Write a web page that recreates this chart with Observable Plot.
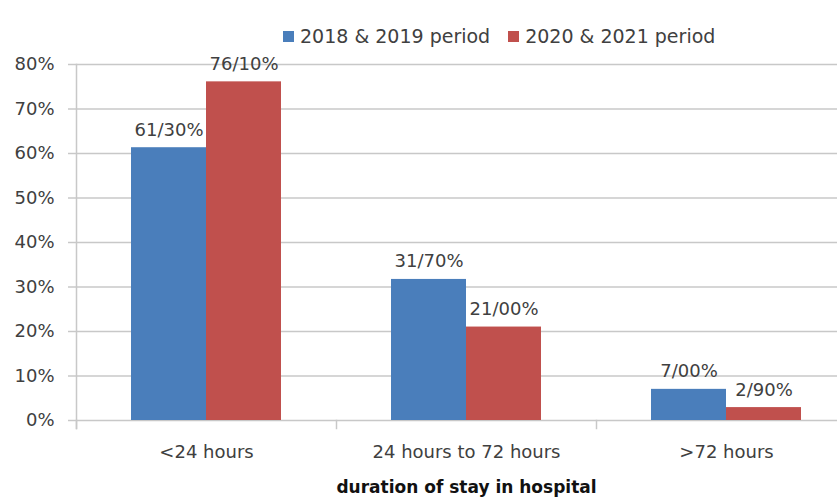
<!DOCTYPE html>
<html>
<head>
<meta charset="utf-8">
<script src="https://cdn.jsdelivr.net/npm/d3@7"></script>
<script src="https://cdn.jsdelivr.net/npm/@observablehq/plot@0.6"></script>
<style>
  html, body { margin: 0; padding: 0; background: #fff; overflow: hidden; }
  #wrap { position: relative; width: 837px; height: 498px; overflow: hidden; }
  #legend { position: absolute; left: 283px; top: 25px; display: flex; align-items: center;
            font: 19px "DejaVu Sans", sans-serif; color: #404040; white-space: nowrap; }
  #legend .item { display: flex; align-items: center; margin-right: 18px; }
  #legend .sw { width: 11px; height: 11px; margin-right: 6px; }
  #chart { position: absolute; left: 0; top: 0; }
</style>
</head>
<body>
<div id="wrap">
  <div id="chart"></div>
  <div id="legend"></div>
</div>
<script>
// Length of hospital stay, share of patients per period
const categories = ["<24 hours", "24 hours to 72 hours", ">72 hours"];
const seriesNames = ["2018 & 2019 period", "2020 & 2021 period"];
const seriesColors = ["#4a7ebb", "#c0504d"];
const values2018_2019 = [61.3, 31.7, 7.0];
const values2020_2021 = [76.1, 21.0, 2.9];
const yTicks = [0, 10, 20, 30, 40, 50, 60, 70, 80];
const xTitle = "duration of stay in hospital";

const seriesValues = [values2018_2019, values2020_2021];
const rows = categories.flatMap((category, i) =>
  seriesNames.map((series, s) => ({category, series, value: seriesValues[s][i]}))
);

// values are written with "/" as the decimal separator
const fmt = v => v.toFixed(2).replace(".", "/") + "%";

const gridColor = "#c8c8c8";
const textColor = "#404040";

const chart = Plot.plot({
  width: 856,
  height: 498,
  marginTop: 64,
  marginBottom: 78,
  marginLeft: 75,
  marginRight: 0,
  style: {fontSize: "18px", fontFamily: "'DejaVu Sans', sans-serif", color: textColor,
          background: "#fff", maxWidth: "none"},
  fx: {domain: categories, padding: 0, label: null},
  x: {domain: seriesNames, paddingInner: 0, paddingOuter: 0.733, axis: null},
  y: {domain: [0, 80], axis: null},
  color: {domain: seriesNames, range: seriesColors},
  marks: [
    Plot.gridY(yTicks, {stroke: gridColor, strokeOpacity: 1, strokeWidth: 1.5}),
    Plot.barY(rows, {fx: "category", x: "series", y: "value", fill: "series"}),
    Plot.text(rows, {fx: "category", x: "series", y: "value", text: d => fmt(d.value),
                     lineAnchor: "bottom", dy: -12, fill: textColor}),
    Plot.axisY(yTicks, {tickFormat: d => d + "%", tickSize: 8, tickPadding: 14,
                        stroke: gridColor, strokeWidth: 1.5, fill: textColor, label: null}),
    // vertical axis line, and small category separators under the baseline
    Plot.frame({anchor: "left", facet: "super", insetBottom: -8, stroke: gridColor, strokeWidth: 1.5}),
    Plot.frame({anchor: "left", insetTop: 356, insetBottom: -8, stroke: gridColor, strokeWidth: 1.5}),
    Plot.axisFx({anchor: "bottom", tickSize: 0, tickPadding: 25, label: null, fill: textColor}),
    // x-axis title, centred under the whole chart
    Plot.text([xTitle], {facet: "super", frameAnchor: "bottom", dy: 67, lineAnchor: "middle",
                         fontWeight: "bold", fontSize: 17, fill: "#111"})
  ]
});
document.getElementById("chart").appendChild(chart);

// legend
const legend = document.getElementById("legend");
seriesNames.forEach((name, i) => {
  const item = document.createElement("div");
  item.className = "item";
  const sw = document.createElement("div");
  sw.className = "sw";
  sw.style.background = seriesColors[i];
  const label = document.createElement("span");
  label.textContent = name;
  item.appendChild(sw);
  item.appendChild(label);
  legend.appendChild(item);
});
</script>
</body>
</html>
